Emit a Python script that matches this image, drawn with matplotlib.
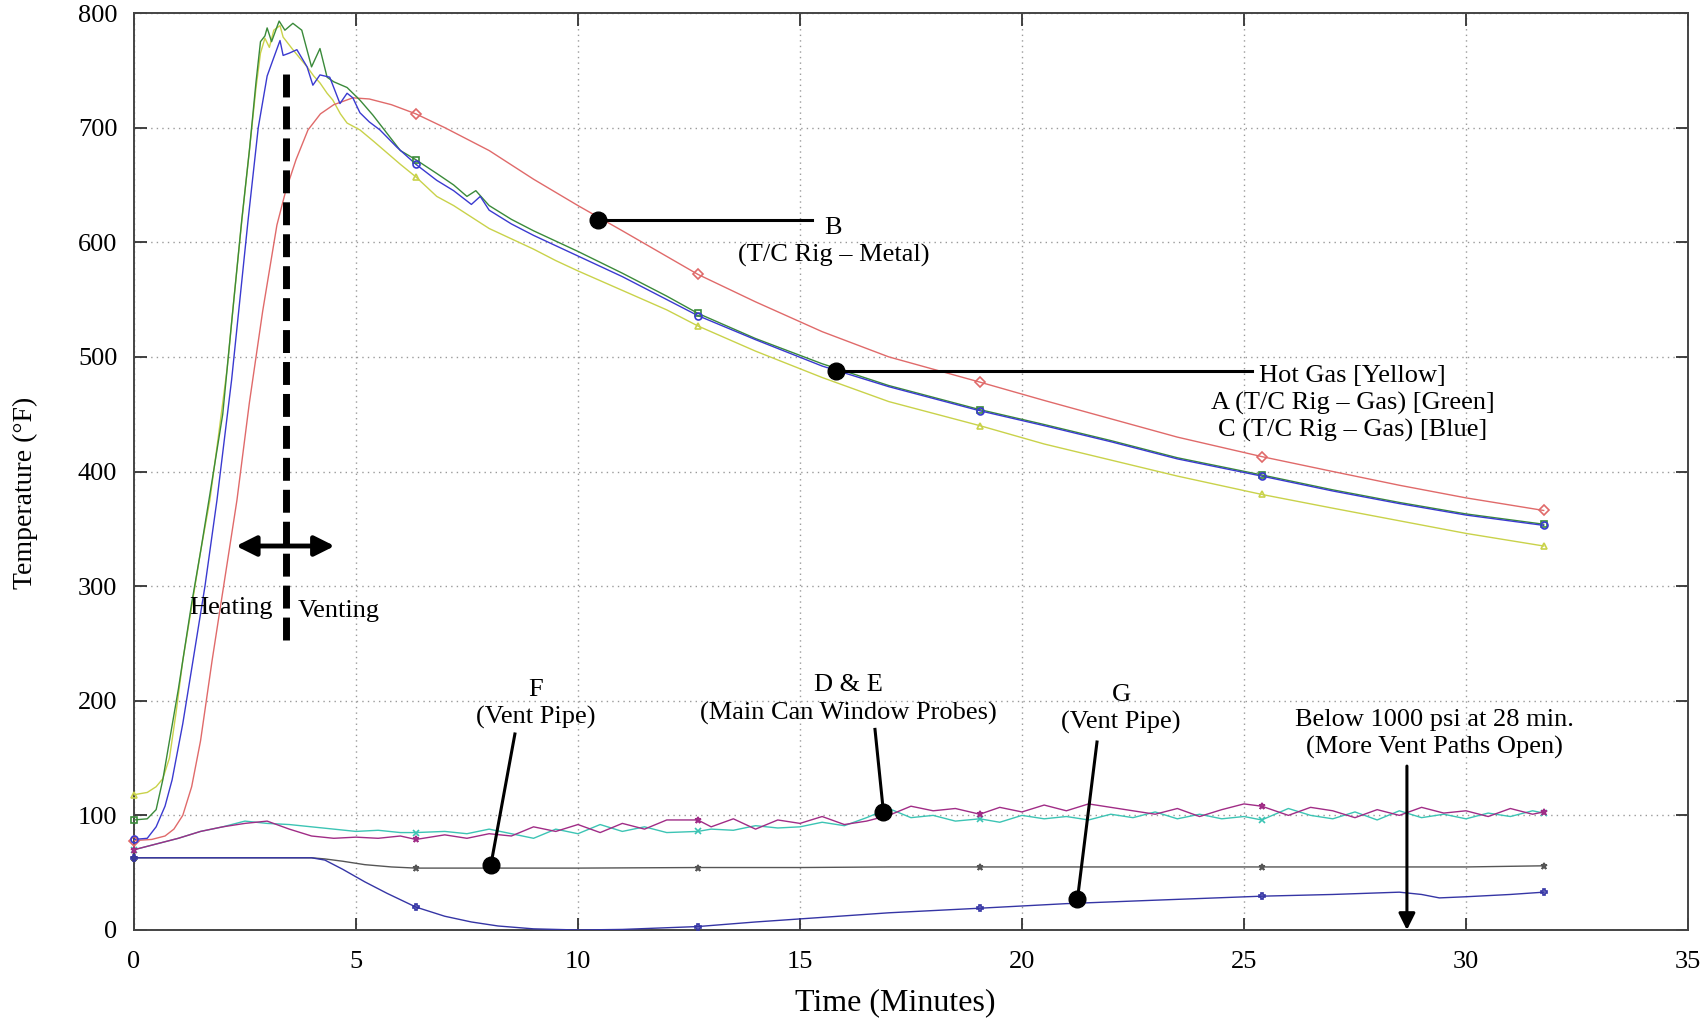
import numpy as np
import matplotlib
matplotlib.use("Agg")
import matplotlib.pyplot as plt

# marker positions shared by all traces (minutes)
mark_t = [0, 6.35, 12.7, 19.05, 25.4, 31.75]

# Hot Gas [Yellow]
t_yel = [0, 0.3, 0.5, 0.65, 0.8, 0.95, 1.1, 1.3, 1.5, 1.71, 1.9, 2.1, 2.25, 2.43, 2.6, 2.75,
         2.85, 2.95, 3.05, 3.15, 3.29, 3.36, 3.5, 3.58, 3.75, 3.9, 4.05, 4.19, 4.35, 4.48,
         4.65, 4.8, 5.09, 5.4, 5.7, 6.0, 6.35, 6.82, 7.2, 7.6, 8.0, 8.5, 9.0, 9.5, 10, 11,
         12, 12.7, 14, 15.5, 17, 19.05, 20.5, 22, 23.5, 25.4, 27, 28.5, 30, 31.75]
v_yel = [118, 120, 125, 132, 150, 190, 235, 282, 330, 375, 430, 490, 550, 619, 680, 735,
         765, 778, 770, 785, 789, 779, 772, 768, 760, 753, 745, 739, 730, 724,
         712, 704, 698, 688, 678, 668, 657, 640, 632, 622, 612, 603, 594, 584, 575, 558,
         541, 527, 505, 482, 461, 440, 424, 410, 396, 380, 368, 357, 346, 335]

# A (T/C Rig - Gas) [Green]
t_grn = [0, 0.3, 0.5, 0.65, 0.8, 1.0, 1.3, 1.5, 1.71, 2.0, 2.2, 2.43, 2.6, 2.75, 2.85, 2.95,
         3.0, 3.1, 3.27, 3.4, 3.58, 3.78, 4.0, 4.19, 4.35, 4.5, 4.8, 5.09, 5.38, 5.7, 6.0,
         6.35, 6.82, 7.2, 7.5, 7.7, 8.0, 8.5, 9.0, 10, 11, 12, 12.7, 14, 15.5, 17, 19.05,
         20.5, 22, 23.5, 25.4, 27, 28.5, 30, 31.75]
v_grn = [96, 97, 105, 131, 165, 210, 285, 330, 380, 450, 530, 620, 680, 740, 775, 780,
         787, 775, 793, 785, 791, 785, 753, 769, 744, 740, 735, 724, 711, 695, 680,
         672, 660, 650, 640, 645, 632, 620, 610, 592, 573, 553, 538, 516, 494, 475, 454,
         441, 427, 412, 397, 384, 373, 363, 354]

# C (T/C Rig - Gas) [Blue]
t_blu = [0, 0.3, 0.5, 0.7, 0.86, 1.1, 1.33, 1.6, 1.87, 2.2, 2.57, 2.8, 3.0, 3.13, 3.29, 3.36,
         3.5, 3.67, 3.9, 4.03, 4.19, 4.41, 4.64, 4.8, 4.93, 5.09, 5.3, 5.54, 5.92, 6.35,
         6.82, 7.2, 7.6, 7.8, 8.0, 8.5, 9.0, 10, 11, 12, 12.7, 14, 15.5, 17, 19.05, 20.5,
         22, 23.5, 25.4, 27, 28.5, 30, 31.75]
v_blu = [79, 80, 90, 108, 131, 180, 235, 300, 375, 480, 619, 700, 745, 759, 776, 763,
         765, 768, 753, 737, 746, 744, 721, 730, 726, 713, 705, 698, 683, 668,
         654, 645, 633, 640, 628, 616, 606, 588, 570, 550, 536, 515, 492, 474, 453, 440,
         426, 411, 396, 383, 372, 362, 353]

# B (T/C Rig - Metal) [Red]
t_red = [0, 0.4, 0.7, 0.9, 1.1, 1.3, 1.5, 1.76, 2.0, 2.32, 2.6, 2.9, 3.22, 3.42, 3.65, 3.92,
         4.2, 4.5, 4.93, 5.3, 5.8, 6.35, 7, 8, 9, 10, 11, 12.7, 14, 15.5, 17, 19.05, 20.5,
         22, 23.5, 25.4, 27, 28.5, 30, 31.75]
v_red = [78, 79, 82, 88, 100, 125, 165, 235, 295, 375, 460, 540, 615, 645, 672, 698,
         712, 720, 726, 725, 720, 712, 700, 680, 655, 632, 610, 572, 548, 522, 500, 478, 462,
         446, 430, 413, 400, 388, 377, 366]

# D & E (Main Can Window Probes)
t_probe = [0, 0.5, 1, 1.5, 2, 2.5, 3, 3.5, 4, 4.5, 5, 5.5, 6, 6.35, 7, 7.5, 8, 8.5, 9, 9.5,
           10, 10.5, 11, 11.5, 12, 12.7, 13, 13.5, 14, 14.5, 15, 15.5, 16, 16.5, 17, 17.5,
           18, 18.5, 19.05, 19.5, 20, 20.5, 21, 21.5, 22, 22.5, 23, 23.5, 24, 24.5, 25,
           25.4, 26, 26.5, 27, 27.5, 28, 28.5, 29, 29.5, 30, 30.5, 31, 31.5, 31.75]
v_D = [70, 75, 80, 86, 90, 93, 95, 88, 82, 80, 81, 80, 82, 79, 83, 80, 84, 82, 90, 86,
       92, 85, 93, 88, 96, 96, 90, 97, 88, 96, 93, 99, 92, 95, 100, 108,
       104, 106, 101, 107, 103, 109, 104, 110, 107, 104, 101, 106, 99, 105, 110,
       108, 100, 107, 104, 98, 105, 100, 107, 102, 104, 99, 106, 101, 103]
v_E = [70, 75, 80, 86, 90, 95, 93, 92, 90, 88, 86, 87, 85, 85, 86, 84, 88, 84, 80, 88,
       84, 92, 86, 90, 85, 86, 88, 87, 91, 89, 90, 94, 91, 98, 106, 98,
       100, 95, 97, 94, 100, 97, 99, 96, 101, 98, 103, 97, 101, 97, 99,
       96, 106, 100, 97, 103, 96, 104, 98, 101, 97, 102, 99, 104, 102]

# F (Vent Pipe)
t_F = [0, 4.0, 4.3, 4.7, 5.2, 5.8, 6.35, 8, 10, 12.7, 15, 17, 19.05, 21, 23, 25.4, 28, 30, 31.75]
v_F = [63, 63, 62, 60, 57, 55, 54, 54, 54, 54.5, 54.5, 55, 55, 55, 55, 55, 55, 55, 56]

# G (Vent Pipe)
t_G = [0, 4.0, 4.3, 4.7, 5.2, 5.7, 6.35, 7, 7.6, 8.2, 9, 10, 11, 12.7, 14, 15.5, 17, 19.05,
       21, 23, 25.4, 27, 28.5, 29.0, 29.4, 30, 31, 31.75]
v_G = [63, 63, 61, 53, 42, 32, 20, 12, 7, 3.5, 1, 0, 0.5, 3, 7, 11, 15, 19,
       23, 26, 29.5, 31, 33, 31, 28, 29, 31, 33]

plt.rcParams['font.family'] = ['Liberation Serif', 'DejaVu Serif']

fig = plt.figure(figsize=(17.04, 10.24), dpi=100)
ax = fig.add_axes([0.0786, 0.0918, 0.912, 0.8955])

traces = [
    (t_probe, v_E, '#3cc4b4', 'x'),
    (t_probe, v_D, '#a02c86', '*'),
    (t_F, v_F, '#555555', '*'),
    (t_G, v_G, '#3535a5', 'P'),
    (t_yel, v_yel, '#c9d24a', '^'),
    (t_red, v_red, '#e06a6a', 'D'),
    (t_grn, v_grn, '#3a8a3a', 's'),
    (t_blu, v_blu, '#3a3ad0', 'o'),
]
for t, v, c, m in traces:
    t = np.array(t)
    v = np.array(v)
    ax.plot(t, v, color=c, lw=1.0, zorder=3)
    sel = np.isin(t, mark_t)
    ax.plot(t[sel], v[sel], ls='none', marker=m, ms=5, mfc='none', mec=c, mew=1.2,
            zorder=4, clip_on=False)

ax.set_xlim(0, 35)
ax.set_ylim(0, 800)
ax.set_xticks(range(0, 36, 5))
ax.set_yticks(range(0, 801, 100))
ax.grid(True, color='#9a9a9a', ls=(0, (1, 3)), lw=1.0)
ax.tick_params(direction='in', length=9, width=1.3, top=True, right=True,
               labelsize=19, colors='#333333', labelcolor='black')
ax.tick_params(axis='x', pad=15)
ax.tick_params(axis='y', pad=12)
for s in ax.spines.values():
    s.set_color('#444444')
    s.set_linewidth(1.4)
ax.set_xlabel('Time (Minutes)', fontsize=23)
ax.set_ylabel('Temperature (°F)', fontsize=20)
ax.xaxis.set_label_coords(0.490, -0.064)
ax.yaxis.set_label_coords(-0.062, 0.477)

fs = 19
# heating / venting marker
ax.plot([3.42, 3.42], [253, 749], color='black', lw=5, ls=(0, (3.3, 1.3)), zorder=6)
ax.annotate('', xy=(2.3, 335), xytext=(4.52, 335),
            arrowprops=dict(arrowstyle='<|-|>', color='black', lw=3.5,
                            mutation_scale=30, shrinkA=0, shrinkB=0), zorder=6)
ax.text(2.19, 281, 'Heating', ha='center', va='center', fontsize=fs, zorder=7)
ax.text(4.61, 278, 'Venting', ha='center', va='center', fontsize=fs, zorder=7)

# leader lines with dots
leaders = [
    ((10.45, 619), (15.28, 619)),
    ((15.82, 488), (25.19, 488)),
    ((8.04, 57), (8.58, 171)),
    ((16.88, 103), (16.69, 175)),
    ((21.25, 27), (21.69, 164)),
]
for (x0, y0), (x1, y1) in leaders:
    ax.plot([x0, x1], [y0, y1], color='black', lw=2.2, zorder=7)
    ax.plot(x0, y0, 'o', color='black', ms=12, zorder=8)

ax.text(15.75, 600, 'B\n(T/C Rig – Metal)', ha='center', va='center', fontsize=fs,
        linespacing=1.3, zorder=7)
ax.text(27.45, 459, 'Hot Gas [Yellow]\nA (T/C Rig – Gas) [Green]\nC (T/C Rig – Gas) [Blue]',
        ha='center', va='center', fontsize=fs, linespacing=1.25, zorder=7)
ax.text(9.05, 197, 'F\n(Vent Pipe)', ha='center', va='center', fontsize=fs,
        linespacing=1.3, zorder=7)
ax.text(16.1, 201, 'D & E\n(Main Can Window Probes)', ha='center', va='center',
        fontsize=fs, linespacing=1.3, zorder=7)
ax.text(22.23, 193, 'G\n(Vent Pipe)', ha='center', va='center', fontsize=fs,
        linespacing=1.3, zorder=7)
ax.text(29.28, 171, 'Below 1000 psi at 28 min.\n(More Vent Paths Open)', ha='center',
        va='center', fontsize=fs, linespacing=1.3, zorder=7)
ax.annotate('', xy=(28.67, 0), xytext=(28.67, 143),
            arrowprops=dict(arrowstyle='-|>', color='black', lw=2.2,
                            mutation_scale=25, shrinkA=0, shrinkB=0), zorder=7)

fig.savefig('out.png', dpi=100)
